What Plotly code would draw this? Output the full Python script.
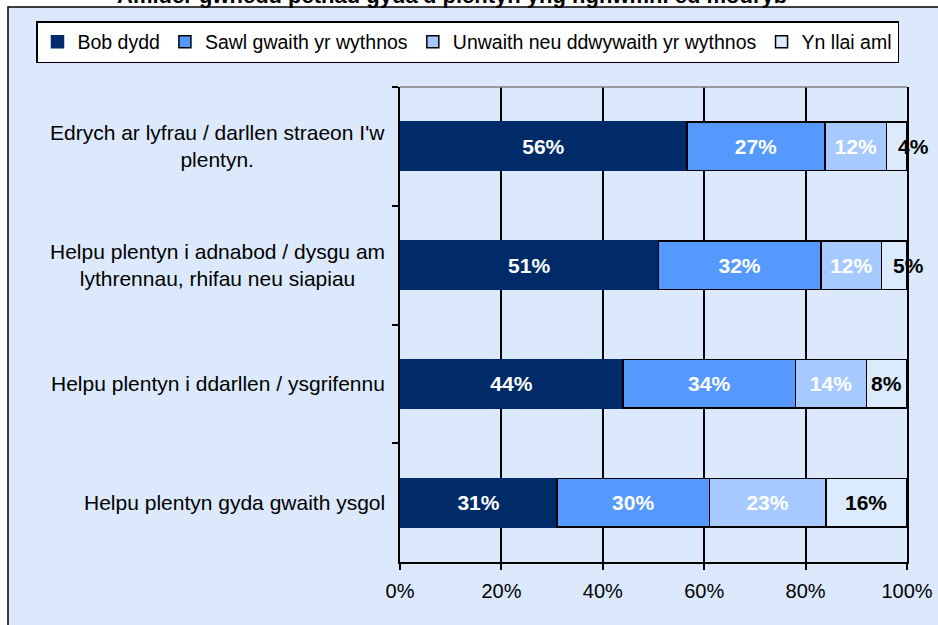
import plotly.graph_objects as go

categories = [
    "Edrych ar lyfrau / darllen straeon I'w<br>plentyn.",
    "Helpu plentyn i adnabod / dysgu am<br>lythrennau, rhifau neu siapiau",
    "Helpu plentyn i ddarllen / ysgrifennu",
    "Helpu plentyn gyda gwaith ysgol",
]
series_names = ["Bob dydd", "Sawl gwaith yr wythnos", "Unwaith neu ddwywaith yr wythnos", "Yn llai aml"]
bob_dydd = [56, 51, 44, 31]
sawl_gwaith = [27, 32, 34, 30]
unwaith = [12, 12, 14, 23]
llai_aml = [4, 5, 8, 16]
x_ticks = [0, 20, 40, 60, 80, 100]
title_text = "Amlder gwneud pethau gyda'u plentyn yng nghwmni eu modryb"

series_values = [bob_dydd, sawl_gwaith, unwaith, llai_aml]
colors = ["#002B69", "#5599FF", "#A6CAFF", "#DCEAFD"]
line_colors = ["#002B69", "black", "black", "black"]
text_colors = ["white", "white", "white", "black"]

BG = "#DCE9FC"
FONT = "Liberation Sans, Arial, sans-serif"

PLOT_TOP, PLOT_BOTTOM = 87, 562
PLOT_H = PLOT_BOTTOM - PLOT_TOP

fig = go.Figure()
for i, (name, vals) in enumerate(zip(series_names, series_values)):
    show_text = i < 3
    fig.add_trace(go.Bar(
        name=name,
        y=categories,
        x=vals,
        orientation="h",
        marker=dict(color=colors[i], line=dict(color=line_colors[i], width=1.5)),
        text=[f"{v}%" for v in vals] if show_text else None,
        texttemplate="%{text}" if show_text else None,
        textposition="inside" if show_text else "none",
        insidetextanchor="middle",
        textfont=dict(family=FONT, size=21, color=text_colors[i], weight="bold"),
        hoverinfo="skip",
    ))

annotations = []
# labels for the last series (may overflow the bar to the right)
for j, cat in enumerate(categories):
    total = sum(s[j] for s in series_values)
    start = sum(s[j] for s in series_values[:3]) / total * 100
    width = llai_aml[j] / total * 100
    if llai_aml[j] < 6:
        annotations.append(dict(x=start, y=cat, xref="x", yref="y", text=f"{llai_aml[j]}%",
                                xanchor="left", xshift=9, showarrow=False,
                                font=dict(family=FONT, size=21, color="black", weight="bold")))
    else:
        annotations.append(dict(x=start + width / 2, y=cat, xref="x", yref="y", text=f"{llai_aml[j]}%",
                                xanchor="center", showarrow=False,
                                font=dict(family=FONT, size=21, color="black", weight="bold")))

# category labels (right-aligned block, centred lines)
for cat in categories:
    annotations.append(dict(x=0, y=cat, xref="paper", yref="y", text=cat, xanchor="right",
                            xshift=-13, align="center", showarrow=False,
                            font=dict(family=FONT, size=21, color="black")))

# clipped title
annotations.append(dict(x=(115 - 400) / 507, y=(PLOT_BOTTOM - 10) / PLOT_H, xref="paper", yref="paper",
                        text=f"<b>{title_text}</b>", xanchor="left", yanchor="bottom",
                        showarrow=False, font=dict(family=FONT, size=22, color="black")))

fig.update_layout(
    width=938, height=625,
    margin=dict(l=400, r=31, t=PLOT_TOP, b=625 - PLOT_BOTTOM, pad=0, autoexpand=False),
    paper_bgcolor="white",
    plot_bgcolor="white",
    barmode="stack",
    barnorm="percent",
    bargap=0.59,
    showlegend=True,
    legend=dict(orientation="h", x=(36 - 400) / 507, y=(PLOT_BOTTOM - 21) / PLOT_H, xanchor="left", yanchor="top",
                bgcolor="white", bordercolor="black", borderwidth=1.5,
                font=dict(family=FONT, size=19.5, color="black"), traceorder="normal"),
    xaxis=dict(range=[0, 100], tickvals=x_ticks, ticktext=[f"{t}%" for t in x_ticks],
               showgrid=True, gridcolor="black", gridwidth=1.5, zeroline=False,
               showline=True, linecolor="black", linewidth=2, automargin=False,
               ticks="outside", ticklen=6, tickcolor="black", tickwidth=1.5,
               ticklabelstandoff=4,
               tickfont=dict(family=FONT, size=20, color="black")),
    yaxis=dict(autorange="reversed", showticklabels=False, ticks="outside", tickson="boundaries",
               ticklen=6, tickcolor="black", tickwidth=1.5, automargin=False,
               showline=True, linecolor="black", linewidth=2, mirror=True, showgrid=False),
    annotations=annotations,
    shapes=[
        dict(type="rect", xref="paper", yref="paper", x0=(8 - 400) / 507, x1=2.0,
             y0=-1.0, y1=(PLOT_BOTTOM - 7) / PLOT_H, fillcolor=BG, line=dict(color="black", width=1.5),
             layer="below"),
        dict(type="line", xref="paper", yref="paper", x0=0, x1=1, y0=1, y1=1,
             line=dict(color="#808080", width=1.5)),
    ],
)

fig.write_html("out.html", config={"displayModeBar": False},
               post_script="document.body.style.margin='0';")
